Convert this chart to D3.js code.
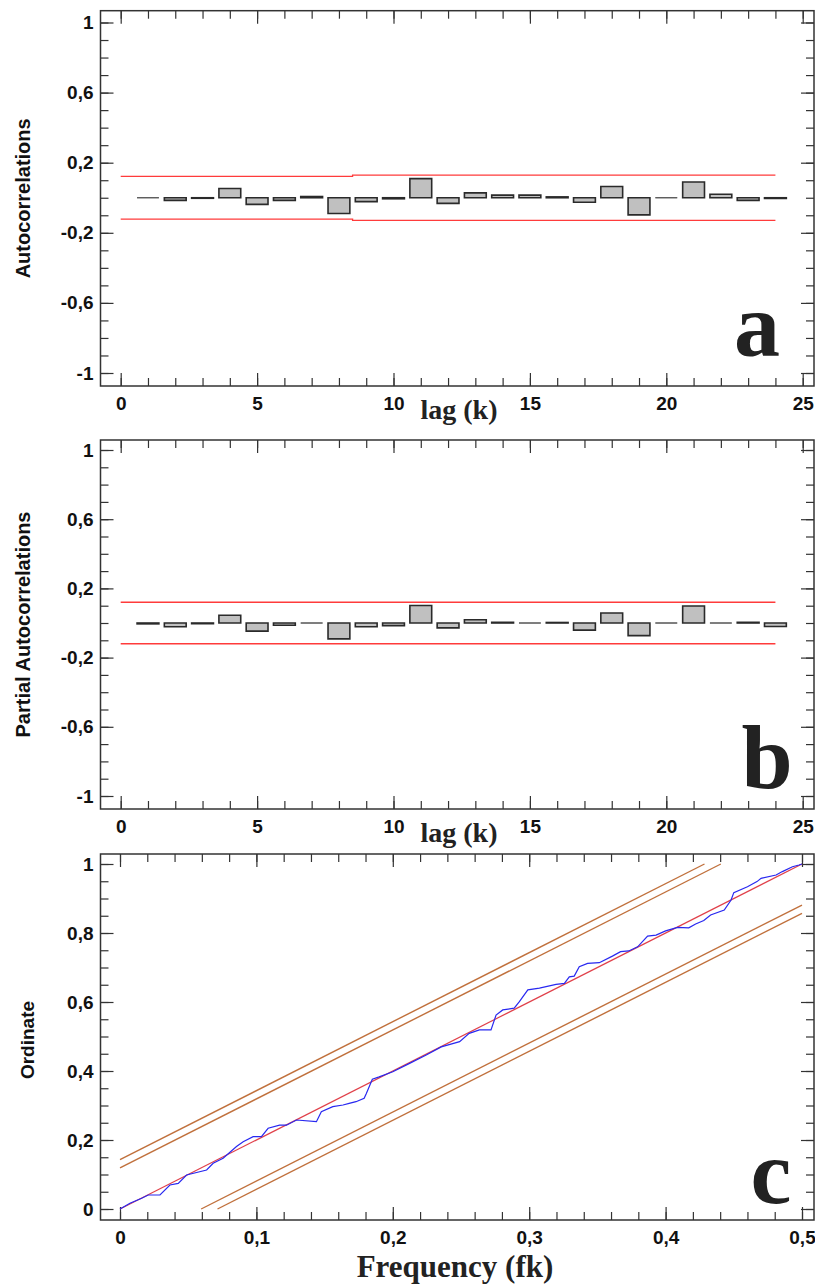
<!DOCTYPE html>
<html>
<head>
<meta charset="utf-8">
<script src="https://cdn.jsdelivr.net/npm/d3@7"></script>
<style>
  body { margin: 0; background: #fff; }
  svg { display: block; }
</style>
</head>
<body>
<svg id="chart" width="815" height="1285"></svg>
<script>
// ---- data ----
var lags = d3.range(1, 25);

var acfValues = [0.000, -0.015, -0.003, 0.053, -0.038, -0.015, 0.007, -0.090,
                 -0.022, -0.006, 0.109, -0.032, 0.028, 0.015, 0.015, 0.005,
                 -0.026, 0.064, -0.098, 0.000, 0.090, 0.020, -0.015, -0.004];

var pacfValues = [-0.005, -0.022, -0.004, 0.045, -0.047, -0.013, 0.000, -0.092,
                  -0.022, -0.015, 0.101, -0.028, 0.019, 0.004, 0.000, 0.003,
                  -0.041, 0.058, -0.073, 0.000, 0.098, 0.000, 0.004, -0.020];

// confidence limits (lag, limit)
var acfBandLag = [0, 8.5, 8.5, 24];
var acfBand = [0.122, 0.122, 0.129, 0.129];
var pacfBandLag = [0, 24];
var pacfBand = [0.12, 0.12];

var corrTicks = [1, 0.6, 0.2, -0.2, -0.6, -1];
var lagTicks = [0, 5, 10, 15, 20, 25];

// cumulative periodogram
var fk = [0, 0.0073, 0.0159, 0.0207, 0.0293, 0.0366, 0.0427, 0.0488, 0.0635, 0.0683,
          0.0756, 0.0854, 0.0903, 0.0976, 0.1037, 0.1086, 0.117, 0.122, 0.1294, 0.144,
          0.1476, 0.156, 0.1635, 0.168, 0.173, 0.179, 0.1806, 0.185, 0.190, 0.200,
          0.2123, 0.2245, 0.2355, 0.249, 0.256, 0.2635, 0.272, 0.2757, 0.2806, 0.289,
          0.2928, 0.299, 0.3075, 0.3197, 0.3258, 0.3294, 0.333, 0.3367, 0.3428, 0.3514,
          0.361, 0.367, 0.373, 0.3795, 0.3868, 0.393, 0.400, 0.4087, 0.417, 0.422,
          0.428, 0.433, 0.443, 0.448, 0.450, 0.460, 0.467, 0.470, 0.481, 0.4856,
          0.493, 0.4978, 0.500];
var ordinate = [0, 0.0165, 0.031, 0.0406, 0.0406, 0.0696, 0.0744, 0.0986, 0.113, 0.1324,
                0.147, 0.181, 0.195, 0.2096, 0.2096, 0.234, 0.243, 0.243, 0.258, 0.253,
                0.282, 0.2966, 0.3014, 0.306, 0.311, 0.321, 0.335, 0.376, 0.383, 0.398,
                0.422, 0.4464, 0.470, 0.485, 0.509, 0.519, 0.519, 0.562, 0.577, 0.582,
                0.601, 0.635, 0.640, 0.651, 0.654, 0.673, 0.675, 0.702, 0.712, 0.714,
                0.733, 0.746, 0.748, 0.760, 0.791, 0.794, 0.806, 0.8165, 0.815, 0.826,
                0.836, 0.852, 0.8667, 0.8957, 0.917, 0.934, 0.949, 0.9585, 0.968, 0.978,
                0.992, 0.997, 1.000];

// Kolmogorov-Smirnov limits (offset from the diagonal)
var ksLimits = [0.143, 0.119, -0.119, -0.143];

var freqTicks = [0, 0.1, 0.2, 0.3, 0.4, 0.5];
var ordTicks = [0, 0.2, 0.4, 0.6, 0.8, 1];

// ---- layout ----
var svg = d3.select("#chart");
var frameLeft = 100.5, frameRight = 814;
var comma = function(d){ return String(d).replace(".", ","); };

var sansBold = "bold 19px 'Liberation Sans', Arial, sans-serif";
var serifBold = "'Liberation Serif', 'Times New Roman', serif";

function drawFrame(g, top, bottom, x, y, xMajor, xMinor, yMajor, yMinor) {
	// minor ticks on all four sides, inward
	g.append("g")
		.attr("transform", "translate(0," + bottom + ")")
		.call(d3.axisBottom(x).tickValues(xMinor).tickSize(-8).tickFormat(""));
	g.append("g")
		.attr("transform", "translate(0," + top + ")")
		.call(d3.axisTop(x).tickValues(xMinor).tickSize(-8).tickFormat(""));
	g.append("g")
		.attr("transform", "translate(" + frameLeft + ",0)")
		.call(d3.axisLeft(y).tickValues(yMinor).tickSize(-8).tickFormat(""));
	g.append("g")
		.attr("transform", "translate(" + frameRight + ",0)")
		.call(d3.axisRight(y).tickValues(yMinor).tickSize(-8).tickFormat(""));

	// major ticks with labels
	g.append("g")
		.attr("class", "xlab")
		.attr("transform", "translate(0," + bottom + ")")
		.call(d3.axisBottom(x).tickValues(xMajor).tickSize(-13).tickPadding(11).tickFormat(comma));
	g.append("g")
		.attr("transform", "translate(0," + top + ")")
		.call(d3.axisTop(x).tickValues(xMajor).tickSize(-13).tickFormat(""));
	g.append("g")
		.attr("class", "ylab")
		.attr("transform", "translate(" + frameLeft + ",0)")
		.call(d3.axisLeft(y).tickValues(yMajor).tickSize(-13).tickPadding(7).tickFormat(comma));
	g.append("g")
		.attr("transform", "translate(" + frameRight + ",0)")
		.call(d3.axisRight(y).tickValues(yMajor).tickSize(-13).tickFormat(""));

	g.selectAll(".domain").remove();
	g.selectAll(".tick line").attr("stroke", "#333").attr("stroke-width", 1.2);
	g.selectAll(".tick text")
		.style("font", sansBold)
		.attr("fill", "#111");

	g.append("rect")
		.attr("x", frameLeft)
		.attr("y", top)
		.attr("width", frameRight - frameLeft)
		.attr("height", bottom - top)
		.attr("fill", "none")
		.attr("stroke", "#333")
		.attr("stroke-width", 1.5);
}

function corrPanel(top, bottom, y1, yM1, values, bandLag, band, yTitle, letter, letterX, letterY) {
	var g = svg.append("g");

	var x = d3.scaleLinear().domain([0, 25]).range([120.7, 802.7]);
	var y = d3.scaleLinear().domain([-1, 1]).range([yM1, y1]);

	drawFrame(g, top, bottom, x, y, lagTicks, d3.range(0, 26),
		corrTicks, d3.range(-10, 11).map(function(d){ return d / 10; }));

	// confidence limits
	var band_line = d3.line()
		.x(function(d){ return x(d[0]); })
		.y(function(d){ return y(d[1]); });
	[1, -1].forEach(function(s){
		g.append("path")
			.datum(bandLag.map(function(l, i){ return [l, s * band[i]]; }))
			.attr("d", band_line)
			.attr("fill", "none")
			.attr("stroke", "#ff3b3b")
			.attr("stroke-width", 1.3);
	});

	// bars, drawn as closed paths so a zero value still shows as a line
	var bw = 0.8;
	g.selectAll("path.bar")
		.data(lags)
		.enter()
		.append("path")
		.attr("class", "bar")
		.attr("d", function(d, i){
			var x0 = x(d - bw / 2), x1 = x(d + bw / 2);
			var ya = y(0), yb = y(values[i]);
			return "M" + x0 + "," + ya + "H" + x1 + "V" + yb + "H" + x0 + "Z";
		})
		.attr("fill", "#c0c0c0")
		.attr("stroke", function(d, i){ return values[i] == 0 ? "#555" : "#2a2a2a"; })
		.attr("stroke-width", function(d, i){ return values[i] == 0 ? 1 : 1.6; });

	// titles
	g.append("text")
		.attr("transform", "translate(30," + (top + bottom) / 2 + ") rotate(-90)")
		.attr("text-anchor", "middle")
		.style("font", "bold 20px 'Liberation Sans', Arial, sans-serif")
		.attr("fill", "#111")
		.text(yTitle);

	g.append("text")
		.attr("x", 459)
		.attr("y", bottom + 33)
		.attr("text-anchor", "middle")
		.style("font", "bold 28px " + serifBold)
		.attr("fill", "#222")
		.text("lag (k)");

	g.append("text")
		.attr("x", letterX)
		.attr("y", letterY)
		.attr("text-anchor", "middle")
		.style("font", "bold 92px " + serifBold)
		.attr("fill", "#222")
		.text(letter);
}

corrPanel(10.7, 386, 22.5, 373, acfValues, acfBandLag, acfBand, "Autocorrelations", "a", 757, 356);
corrPanel(440, 809, 450, 796, pacfValues, pacfBandLag, pacfBand, "Partial Autocorrelations", "b", 767, 788);

// ---- panel c: cumulative periodogram ----
(function(){
	var top = 854, bottom = 1220;
	var g = svg.append("g");
	var x = d3.scaleLinear().domain([0, 0.5]).range([120, 802]);
	var y = d3.scaleLinear().domain([0, 1]).range([1209, 864]);

	drawFrame(g, top, bottom, x, y, freqTicks,
		d3.range(0, 26).map(function(d){ return d / 50; }),
		ordTicks, d3.range(0, 21).map(function(d){ return d / 20; }));

	// limit lines, parallel to the diagonal and clipped to [0,1]
	ksLimits.forEach(function(c){
		var f0 = Math.max(0, -c / 2), f1 = Math.min(0.5, (1 - c) / 2);
		g.append("line")
			.attr("x1", x(f0)).attr("y1", y(c + 2 * f0))
			.attr("x2", x(f1)).attr("y2", y(c + 2 * f1))
			.attr("stroke", "#c0703c")
			.attr("stroke-width", 1.4);
	});

	g.append("line")
		.attr("x1", x(0)).attr("y1", y(0))
		.attr("x2", x(0.5)).attr("y2", y(1))
		.attr("stroke", "#e0404a")
		.attr("stroke-width", 1.2);

	g.append("path")
		.datum(fk.map(function(f, i){ return [f, ordinate[i]]; }))
		.attr("d", d3.line()
			.x(function(d){ return x(d[0]); })
			.y(function(d){ return y(d[1]); }))
		.attr("fill", "none")
		.attr("stroke", "#2828f0")
		.attr("stroke-width", 1.2);

	g.append("text")
		.attr("transform", "translate(34,1040) rotate(-90)")
		.attr("text-anchor", "middle")
		.style("font", "bold 19px 'Liberation Sans', Arial, sans-serif")
		.attr("fill", "#111")
		.text("Ordinate");

	g.append("text")
		.attr("x", 455)
		.attr("y", 1277)
		.attr("text-anchor", "middle")
		.style("font", "bold 31px " + serifBold)
		.attr("fill", "#222")
		.text("Frequency (fk)");

	g.append("text")
		.attr("x", 771)
		.attr("y", 1203)
		.attr("text-anchor", "middle")
		.style("font", "bold 92px " + serifBold)
		.attr("fill", "#222")
		.text("c");
})();
</script>
</body>
</html>
